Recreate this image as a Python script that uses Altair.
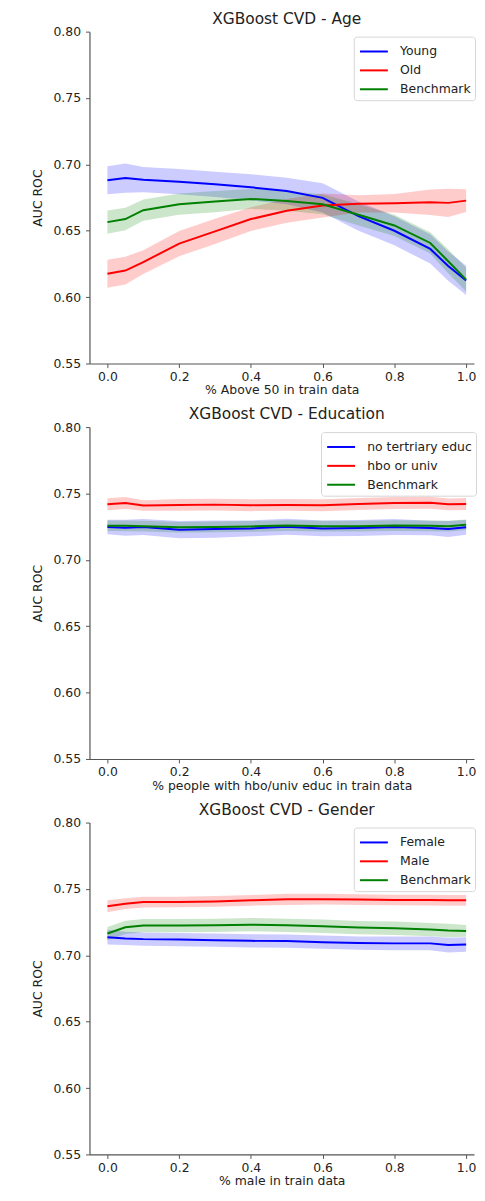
import altair as alt
import pandas as pd

X = [0.0, 0.05, 0.1, 0.2, 0.3, 0.4, 0.5, 0.6, 0.7, 0.8, 0.9, 0.95, 1.0]

# Panel 1 - Age
AGE_TITLE = "XGBoost CVD - Age"
AGE_XTITLE = "% Above 50 in train data"
AGE_LABELS = ["Young", "Old", "Benchmark"]
young = [0.6880, 0.6897, 0.6885, 0.6870, 0.6850, 0.6827, 0.6800, 0.6748, 0.6610, 0.6500, 0.6363, 0.6234, 0.6126]
young_hw = [0.0105, 0.0110, 0.0095, 0.0095, 0.0095, 0.0098, 0.0100, 0.0110, 0.0110, 0.0110, 0.0110, 0.0110, 0.0110]
old = [0.6176, 0.6200, 0.6264, 0.6403, 0.6495, 0.6588, 0.6650, 0.6690, 0.6703, 0.6707, 0.6715, 0.6710, 0.6727]
old_hw = [0.0105, 0.0105, 0.0090, 0.0095, 0.0095, 0.0090, 0.0090, 0.0090, 0.0065, 0.0070, 0.0096, 0.0107, 0.0085]
age_bench = [0.6565, 0.6588, 0.6655, 0.6700, 0.6720, 0.6740, 0.6725, 0.6700, 0.6620, 0.6540, 0.6408, 0.6270, 0.6132]
age_bench_hw = [0.0088, 0.0085, 0.0080, 0.0080, 0.0080, 0.0075, 0.0075, 0.0075, 0.0080, 0.0080, 0.0080, 0.0090, 0.0090]

# Panel 2 - Education
EDU_TITLE = "XGBoost CVD - Education"
EDU_XTITLE = "% people with hbo/univ educ in train data"
EDU_LABELS = ["no tertriary educ", "hbo or univ", "Benchmark"]
noter = [0.7247, 0.7242, 0.7247, 0.7227, 0.7232, 0.7237, 0.7249, 0.7237, 0.7240, 0.7247, 0.7240, 0.7232, 0.7245]
noter_hw = [0.0055, 0.0060, 0.0060, 0.0065, 0.0065, 0.0060, 0.0060, 0.0060, 0.0060, 0.0060, 0.0055, 0.0060, 0.0055]
hbo = [0.7419, 0.7428, 0.7409, 0.7414, 0.7416, 0.7412, 0.7414, 0.7412, 0.7420, 0.7428, 0.7430, 0.7418, 0.7420]
hbo_hw = [0.0045, 0.0045, 0.0040, 0.0045, 0.0045, 0.0045, 0.0045, 0.0045, 0.0045, 0.0045, 0.0045, 0.0045, 0.0045]
edu_bench = [0.7257, 0.7256, 0.7254, 0.7246, 0.7248, 0.7252, 0.7258, 0.7254, 0.7254, 0.7258, 0.7256, 0.7254, 0.7264]
edu_bench_hw = [0.0040, 0.0040, 0.0040, 0.0040, 0.0040, 0.0040, 0.0040, 0.0040, 0.0040, 0.0040, 0.0040, 0.0040, 0.0040]

# Panel 3 - Gender
GEN_TITLE = "XGBoost CVD - Gender"
GEN_XTITLE = "% male in train data"
GEN_LABELS = ["Female", "Male", "Benchmark"]
female = [0.7137, 0.7127, 0.7122, 0.7119, 0.7114, 0.7109, 0.7107, 0.7099, 0.7092, 0.7090, 0.7090, 0.7077, 0.7082]
female_hw = [0.0055, 0.0050, 0.0050, 0.0050, 0.0050, 0.0050, 0.0050, 0.0050, 0.0050, 0.0052, 0.0052, 0.0055, 0.0055]
male = [0.7369, 0.7389, 0.7401, 0.7402, 0.7406, 0.7414, 0.7422, 0.7423, 0.7420, 0.7417, 0.7416, 0.7414, 0.7414]
male_hw = [0.0045, 0.0040, 0.0040, 0.0040, 0.0040, 0.0040, 0.0042, 0.0040, 0.0040, 0.0040, 0.0040, 0.0040, 0.0040]
gen_bench = [0.7164, 0.7211, 0.7224, 0.7224, 0.7226, 0.7231, 0.7226, 0.7219, 0.7209, 0.7204, 0.7194, 0.7187, 0.7184]
gen_bench_hw = [0.0050, 0.0050, 0.0050, 0.0050, 0.0050, 0.0050, 0.0050, 0.0050, 0.0050, 0.0050, 0.0050, 0.0050, 0.0045]

COLORS = ["#0000ff", "#ff0000", "#008000"]
X_TICKS = [0.0, 0.2, 0.4, 0.6, 0.8, 1.0]
Y_TICKS = [0.55, 0.60, 0.65, 0.70, 0.75, 0.80]

FONT = "DejaVu Sans"
TEXT = "#222222"
W, H = 387, 334


def make_df(labels, means, hws):
    rows = []
    for lab, m, h in zip(labels, means, hws):
        for xi, mi, hi in zip(X, m, h):
            rows.append({"x": xi, "series": lab, "mean": mi, "lo": mi - hi, "hi": mi + hi})
    return pd.DataFrame(rows)


def panel(title, xtitle, labels, means, hws, legend_x):
    df = make_df(labels, means, hws)
    xenc = alt.X("x:Q", scale=alt.Scale(domain=[-0.05, 1.022], nice=False, zero=False),
                 axis=alt.Axis(values=X_TICKS, format=".1f", title=xtitle))
    yscale = alt.Scale(domain=[0.55, 0.80], nice=False, zero=False)
    yaxis = alt.Axis(values=Y_TICKS, format=".2f", title="AUC ROC")
    cscale = alt.Scale(domain=labels, range=COLORS)
    base = alt.Chart(df)
    band = base.mark_area(opacity=0.2).encode(
        x=xenc,
        y=alt.Y("lo:Q", scale=yscale, axis=yaxis),
        y2="hi:Q",
        color=alt.Color("series:N", scale=cscale, legend=None),
    )
    line = base.mark_line(strokeWidth=2).encode(
        x=xenc,
        y=alt.Y("mean:Q", scale=yscale, axis=yaxis),
        color=alt.Color("series:N", scale=cscale, sort=labels,
                        legend=alt.Legend(title=None, orient="none",
                                          legendX=legend_x, legendY=5,
                                          symbolType="M-1.44,0H1.44", symbolSize=380,
                                          symbolStrokeWidth=2, symbolOffset=5.25,
                                          labelOffset=15.25, rowPadding=1, padding=4,
                                          strokeColor="#d6d6d6", fillColor="white",
                                          cornerRadius=3, labelFontSize=12.5,
                                          labelFont=FONT, labelColor=TEXT)),
    )
    ttl = alt.Chart(pd.DataFrame({"t": [title]})).mark_text(
        font=FONT, fontSize=15.5, color=TEXT, baseline="alphabetic", align="center"
    ).encode(text="t:N", x=alt.value(198.5), y=alt.value(-8))
    return alt.layer(band, line, ttl).resolve_scale(color="independent").properties(
        width=W, height=H)


p1 = panel(AGE_TITLE, AGE_XTITLE, AGE_LABELS,
           [young, old, age_bench], [young_hw, old_hw, age_bench_hw], 266)
p2 = panel(EDU_TITLE, EDU_XTITLE, EDU_LABELS,
           [noter, hbo, edu_bench], [noter_hw, hbo_hw, edu_bench_hw], 233)
p3 = panel(GEN_TITLE, GEN_XTITLE, GEN_LABELS,
           [female, male, gen_bench], [female_hw, male_hw, gen_bench_hw], 266)

chart = alt.vconcat(p1, p2, p3, spacing=64, bounds="flush").resolve_scale(
    color="independent"
).resolve_legend(color="independent").configure(
    padding={"left": 24, "top": 0, "right": 0, "bottom": -1},
    font=FONT,
).configure_view(stroke=None).configure_axis(
    grid=False, labelFont=FONT, titleFont=FONT, labelFontSize=12.5, titleFontSize=12.5,
    titleFontWeight="normal", labelColor=TEXT, titleColor=TEXT,
    domainColor="#555555", tickColor="#555555", domainWidth=1.2, tickSize=4,
).configure_axisX(labelPadding=3, titlePadding=1).configure_axisY(
    labelPadding=5, titlePadding=8
)

chart.save("out.html", embed_options={"renderer": "svg", "actions": False})
